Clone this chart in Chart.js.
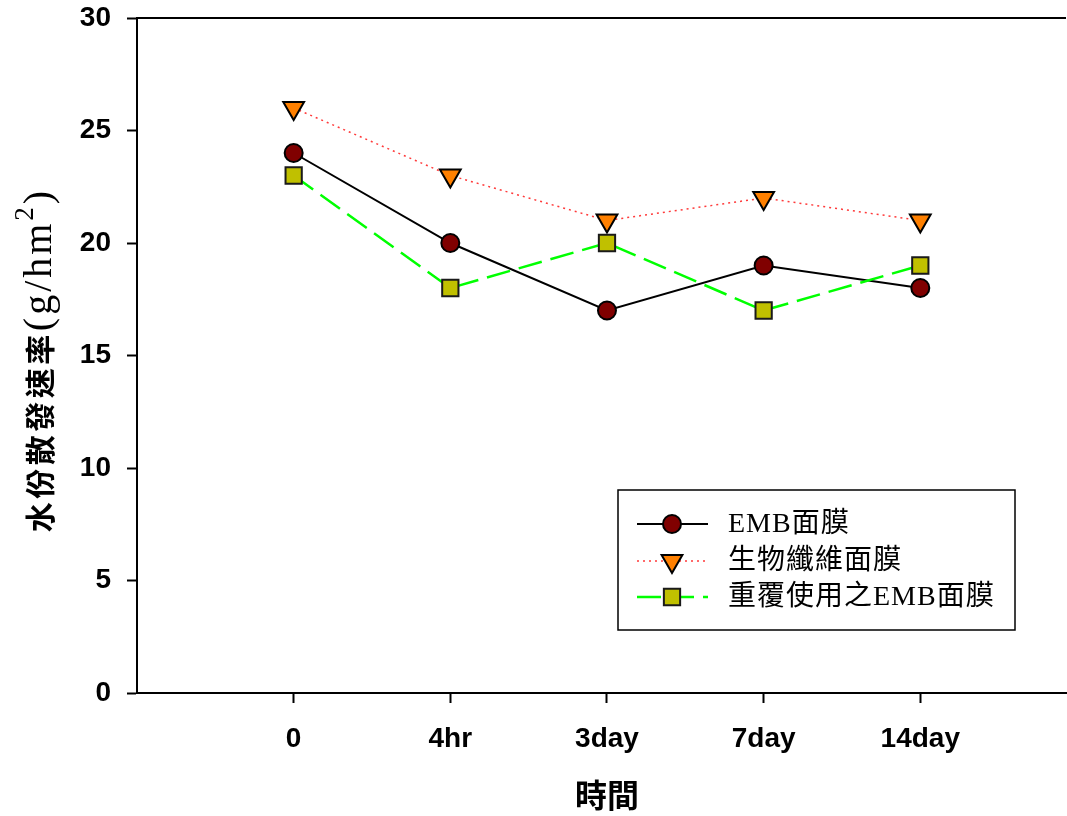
<!DOCTYPE html>
<html>
<head>
<meta charset="utf-8">
<script src="https://cdn.jsdelivr.net/npm/chart.js@4/dist/chart.umd.min.js"></script>
<style>
html,body{margin:0;padding:0;background:#fff;}
#wrap{width:1067px;height:816px;}
</style>
</head>
<body>
<div id="wrap"><canvas id="c" width="1067" height="816"></canvas></div>
<script>
// ---- data ----
const categories = ['0', '4hr', '3day', '7day', '14day'];
const seriesNames = ['EMB面膜', '生物纖維面膜', '重覆使用之EMB面膜'];
const embValues = [24, 20, 17, 19, 18];
const bioValues = [26, 23, 21, 22, 21];
const reusedValues = [23, 18, 20, 17, 19];
const yTicks = [0, 5, 10, 15, 20, 25, 30];
const yTitleCJK = '水份散發速率';
const yTitleUnit = '(g/hm';
const yTitleSup = '2';
const yTitleEnd = ')';
const xTitle = '時間';

const toPts = arr => arr.map((v, i) => ({x: i, y: v}));

const tickFont = {family: '"Liberation Sans", Arial, sans-serif', size: 28, weight: 'bold'};

const datasets = [
  {
    label: seriesNames[0], data: toPts(embValues),
    borderColor: '#000000', borderWidth: 2, borderDash: [],
    pointStyle: 'circle', pointRadius: 9, pointRotation: 0,
    pointBackgroundColor: '#800000', pointBorderColor: '#000000', pointBorderWidth: 2,
    order: 2
  },
  {
    label: seriesNames[1], data: toPts(bioValues),
    borderColor: '#ff3a3a', borderWidth: 1.5, borderDash: [2, 4],
    pointStyle: 'triangle', pointRadius: 12, pointRotation: 180,
    pointBackgroundColor: '#ff8000', pointBorderColor: '#000000', pointBorderWidth: 2,
    order: 3
  },
  {
    label: seriesNames[2], data: toPts(reusedValues),
    borderColor: '#00ff00', borderWidth: 2.5, borderDash: [24, 9],
    pointStyle: 'rect', pointRadius: 11.5, pointRotation: 0,
    pointBackgroundColor: '#c0c000', pointBorderColor: '#1a1a1a', pointBorderWidth: 2,
    order: 1
  }
];
datasets.forEach(d => { d.fill = false; d.tension = 0; d.pointHoverRadius = d.pointRadius; });

const zeroPad = s => { s.paddingTop = 0; s.paddingBottom = 0; s.paddingLeft = 0; s.paddingRight = 0; };

const decorPlugin = {
  id: 'decor',
  afterDraw(chart) {
    const ctx = chart.ctx;
    const ca = chart.chartArea;
    const hasLS = ('letterSpacing' in ctx);
    ctx.save();
    // top frame line
    ctx.strokeStyle = '#000';
    ctx.lineWidth = 2;
    ctx.beginPath();
    ctx.moveTo(ca.left, ca.top);
    ctx.lineTo(ca.right, ca.top);
    ctx.stroke();

    // x title
    ctx.fillStyle = '#000';
    ctx.font = 'bold 32px "Noto Sans CJK TC", sans-serif';
    ctx.textAlign = 'center';
    ctx.textBaseline = 'middle';
    ctx.fillText(xTitle, 607, 795);

    // y title (rotated)
    ctx.save();
    ctx.translate(40, 360);
    ctx.rotate(-Math.PI / 2);
    ctx.textAlign = 'left';
    ctx.textBaseline = 'middle';
    const cjkFont = 'bold 30px "Noto Sans CJK TC", sans-serif';
    const latFont = '40px "Liberation Serif", "Times New Roman", serif';
    const supFont = '27px "Liberation Serif", "Times New Roman", serif';
    ctx.font = cjkFont;
    if (hasLS) ctx.letterSpacing = '3.5px';
    const wC = ctx.measureText(yTitleCJK).width;
    ctx.font = latFont;
    if (hasLS) ctx.letterSpacing = '3px';
    const wU = ctx.measureText(yTitleUnit).width;
    const wE = ctx.measureText(yTitleEnd).width;
    ctx.font = supFont;
    const wS = ctx.measureText(yTitleSup).width;
    const total = wC + wU + wS + wE;
    let x = -total / 2;
    ctx.font = cjkFont;
    if (hasLS) ctx.letterSpacing = '3.5px';
    ctx.fillText(yTitleCJK, x, 0); x += wC;
    if (hasLS) ctx.letterSpacing = '3px';
    ctx.font = latFont;
    ctx.fillText(yTitleUnit, x, 0); x += wU;
    ctx.font = supFont;
    ctx.fillText(yTitleSup, x, -14); x += wS;
    ctx.font = latFont;
    ctx.fillText(yTitleEnd, x, 0);
    if (hasLS) ctx.letterSpacing = '0px';
    ctx.restore();

    // legend
    const lx = 618, ly = 490, lw = 397, lh = 140;
    ctx.fillStyle = '#fff';
    ctx.fillRect(lx, ly, lw, lh);
    ctx.strokeStyle = '#000';
    ctx.lineWidth = 1.5;
    ctx.setLineDash([]);
    ctx.strokeRect(lx, ly, lw, lh);
    const rowsY = [524, 561, 597];
    chart.data.datasets.forEach((ds, i) => {
      const y = rowsY[i];
      ctx.save();
      ctx.strokeStyle = ds.borderColor;
      ctx.lineWidth = ds.borderWidth;
      ctx.setLineDash(ds.borderDash || []);
      ctx.beginPath();
      ctx.moveTo(637, y);
      ctx.lineTo(708, y);
      ctx.stroke();
      ctx.setLineDash([]);
      ctx.fillStyle = ds.pointBackgroundColor;
      ctx.strokeStyle = ds.pointBorderColor;
      ctx.lineWidth = ds.pointBorderWidth;
      Chart.helpers.drawPoint(ctx, {
        pointStyle: ds.pointStyle, radius: ds.pointRadius,
        rotation: ds.pointRotation, borderWidth: ds.pointBorderWidth
      }, 672, y);
      ctx.restore();
      ctx.fillStyle = '#000';
      ctx.font = '28px "Liberation Serif", "Noto Sans CJK TC", serif';
      ctx.textAlign = 'left';
      ctx.textBaseline = 'middle';
      if (hasLS) ctx.letterSpacing = '1px';
      ctx.fillText(ds.label, 728, y + 1);
      if (hasLS) ctx.letterSpacing = '0px';
    });
    ctx.restore();
  }
};

new Chart(document.getElementById('c'), {
  type: 'line',
  data: {datasets},
  options: {
    responsive: false,
    animation: false,
    devicePixelRatio: 1,
    layout: {autoPadding: false, padding: {top: 18, right: 1, left: 0, bottom: 0}},
    plugins: {legend: {display: false}, tooltip: {enabled: false}},
    elements: {line: {borderCapStyle: 'butt'}},
    scales: {
      x: {
        type: 'linear', min: -1, max: 4.93,
        afterBuildTicks: s => { s.ticks = categories.map((c, i) => ({value: i})); },
        afterFit: s => { s.height = 123; zeroPad(s); },
        ticks: {
          callback: v => categories[v] !== undefined ? categories[v] : '',
          font: tickFont, color: '#000', padding: 19, maxRotation: 0, autoSkip: false
        },
        grid: {drawOnChartArea: false, drawTicks: true, tickLength: 10, tickColor: '#000', tickWidth: 2},
        border: {display: true, color: '#000', width: 2}
      },
      y: {
        type: 'linear', min: 0, max: 30,
        afterBuildTicks: s => { s.ticks = yTicks.map(v => ({value: v})); },
        afterFit: s => { s.width = 137; zeroPad(s); },
        ticks: {font: tickFont, color: '#000', padding: 16},
        grid: {drawOnChartArea: false, drawTicks: true, tickLength: 10, tickColor: '#000', tickWidth: 2},
        border: {display: true, color: '#000', width: 2}
      }
    }
  },
  plugins: [decorPlugin]
});
</script>
</body>
</html>
